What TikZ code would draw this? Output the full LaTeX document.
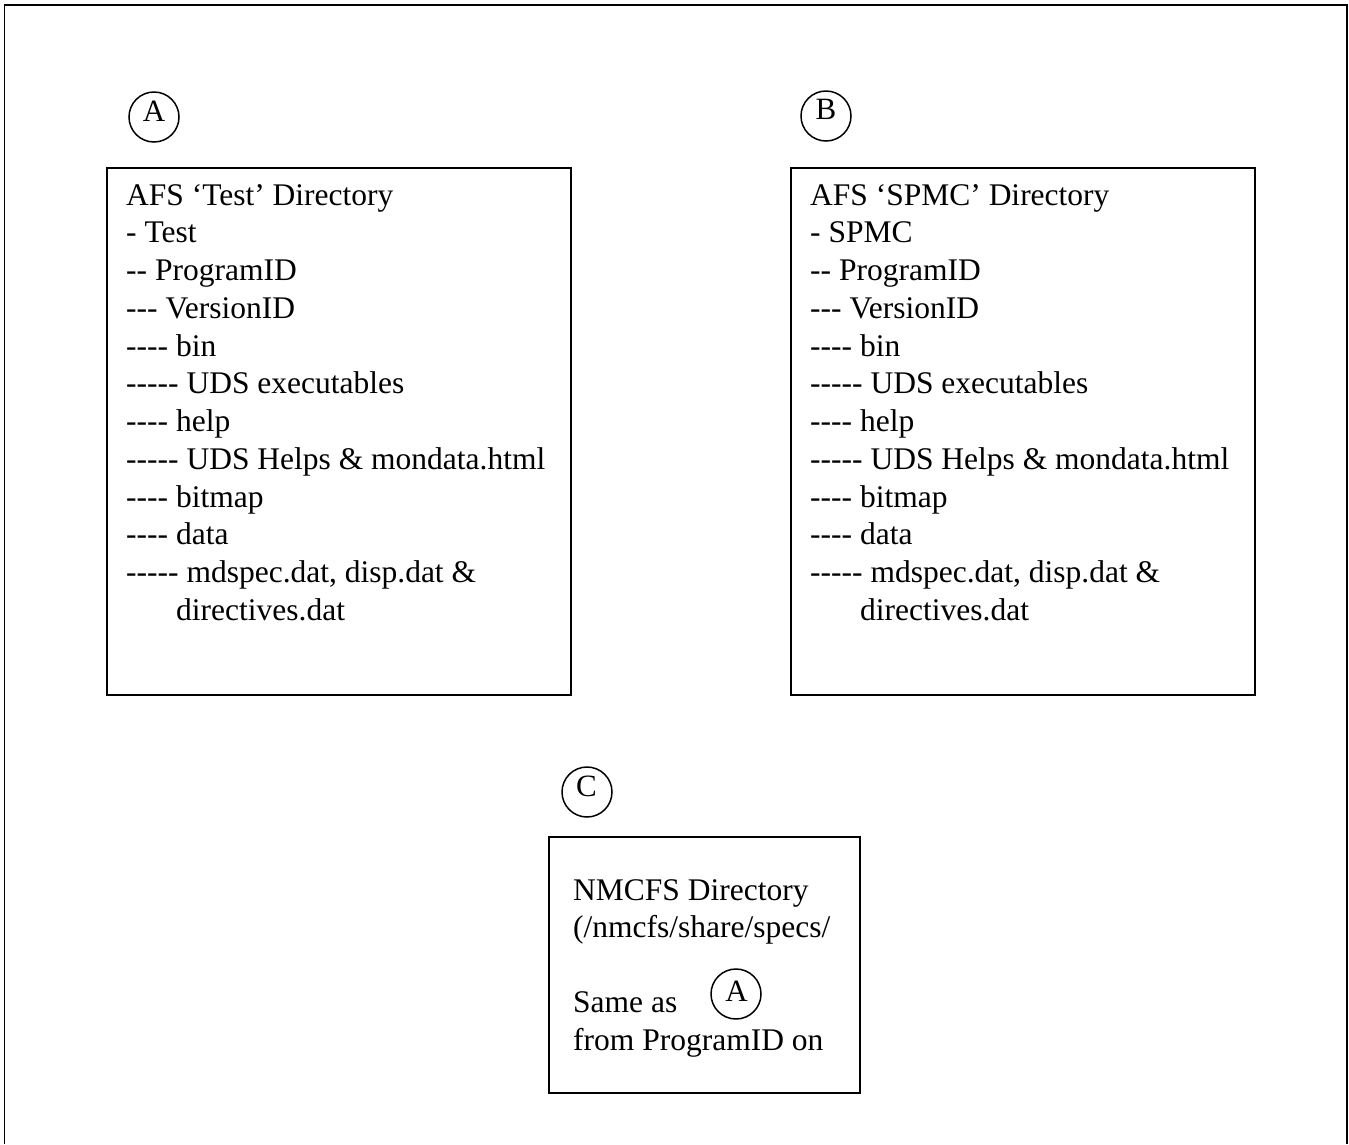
\documentclass[tikz,border=0pt]{standalone}
\usepackage{fontspec}
\setmainfont{Liberation Serif}
\begin{document}
\begin{tikzpicture}[x=1pt,y=-1pt,
  frame/.style={line width=1.8pt},
  dirbox/.style={draw, line width=1.8pt, rectangle, inner sep=0pt, anchor=north west},
  circ/.style={draw, circle, line width=1.5pt, minimum size=50pt, inner sep=0pt},
  letter/.style={inner sep=0pt, font=\fontsize{31}{36}\selectfont},
  txt/.style={anchor=base west, inner sep=0pt, font=\fontsize{31.5}{37}\selectfont}]
\useasboundingbox (0,0) rectangle (1349,1144);
\draw[frame] (4.5,1144) -- (4.5,5) -- (1347,5) -- (1347,1144);

% boxes
\node[dirbox, minimum width=464pt, minimum height=527pt] (boxA) at (106,167) {};
\node[dirbox, minimum width=464pt, minimum height=527pt] (boxB) at (790,167) {};
\node[dirbox, minimum width=311pt, minimum height=256pt] (boxC) at (548,836) {};

% circles
\node[circ] (cA) at (154,117) {};
\node[letter] (lA) at (154,111.5) {A};
\node[circ] (cB) at (826,116) {};
\node[letter] (lB) at (826,109) {B};
\node[circ] (cC) at (587,792) {};
\node[letter] (lC) at (586.5,786) {C};
\node[circ] (cA2) at (736,994) {};
\node[letter] (lA2) at (736.5,991) {A};

% text of box A
\foreach \t [count=\i] in {AFS `Test' Directory, - Test, -{}- ProgramID, -{}-{}- VersionID, -{}-{}-{}- bin, -{}-{}-{}-{}- UDS executables, -{}-{}-{}- help, -{}-{}-{}-{}- UDS Helps \& mondata.html, -{}-{}-{}- bitmap, -{}-{}-{}- data, {-{}-{}-{}-{}- mdspec.dat, disp.dat \&}}
  \node[txt] (ta\i) at (126,{205+37.75*(\i-1)}) {\t};
\node[txt] (ta12) at (176,620) {directives.dat};

% text of box B
\foreach \t [count=\i] in {AFS `SPMC' Directory, - SPMC, -{}- ProgramID, -{}-{}- VersionID, -{}-{}-{}- bin, -{}-{}-{}-{}- UDS executables, -{}-{}-{}- help, -{}-{}-{}-{}- UDS Helps \& mondata.html, -{}-{}-{}- bitmap, -{}-{}-{}- data, {-{}-{}-{}-{}- mdspec.dat, disp.dat \&}}
  \node[txt] (tb\i) at (810,{205+37.75*(\i-1)}) {\t};
\node[txt] (tb12) at (860,620) {directives.dat};

% text of box C
\node[txt] (tc1) at (573,900) {NMCFS Directory};
\node[txt] (tc2) at (573,937.5) {(/nmcfs/share/specs/};
\node[txt] (tc3) at (573,1012.5) {Same as};
\node[txt] (tc4) at (573,1050) {from ProgramID on};
\end{tikzpicture}
\end{document}
